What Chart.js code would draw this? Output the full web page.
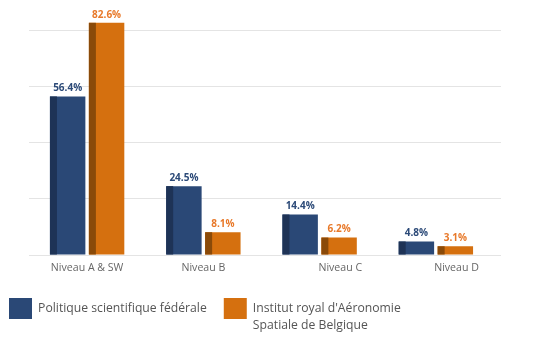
<!DOCTYPE html>
<html>
<head>
<meta charset="utf-8">
<script src="https://cdn.jsdelivr.net/npm/chart.js@4.4.1/dist/chart.umd.min.js"></script>
<style>
  html, body { margin: 0; padding: 0; background: #ffffff; }
  #wrap { width: 550px; height: 340px; }
</style>
</head>
<body>
<div id="wrap"><canvas id="c" width="550" height="340"></canvas></div>
<script>
const categories = ['Niveau A & SW', 'Niveau B', 'Niveau C', 'Niveau D'];
const seriesNames = [['Politique scientifique fédérale'], ["Institut royal d'Aéronomie", 'Spatiale de Belgique']];
const politiqueValues = [56.4, 24.5, 14.4, 4.8];
const institutValues = [82.6, 8.1, 6.2, 3.1];

const mainColors = ['#2a4876', '#d5700f'];
const darkColors = ['#1e3356', '#8a4a09'];
const labelColors = ['#2c4a78', '#e8792a'];

const barDecor = {
  id: 'barDecor',
  afterDatasetsDraw(chart) {
    const ctx = chart.ctx;
    ctx.save();
    chart.data.datasets.forEach((ds, di) => {
      const meta = chart.getDatasetMeta(di);
      meta.data.forEach((bar, i) => {
        const p = bar.getProps(['x', 'y', 'base', 'width'], true);
        const left = p.x - p.width / 2;
        ctx.fillStyle = darkColors[di];
        ctx.fillRect(left, p.y, 7, p.base - p.y);
        ctx.fillStyle = labelColors[di];
        ctx.font = 'bold 10px "Open Sans"';
        ctx.textAlign = 'center';
        ctx.textBaseline = 'middle';
        ctx.fillText(ds.data[i].toFixed(1) + '%', p.x, p.y - 8);
      });
    });
    ctx.restore();
  }
};

// Give the legend room for the second text line (it is clipped to its own box)
const legendRoom = {
  id: 'legendRoom',
  beforeLayout(chart) {
    const lg = chart.legend;
    if (lg && !lg._roomPatched) {
      const fit = lg.fit.bind(lg);
      lg.fit = function () { fit(); this.height += 11; };
      lg._roomPatched = true;
    }
  }
};

new Chart(document.getElementById('c'), {
  type: 'bar',
  data: {
    labels: categories,
    datasets: [
      { label: seriesNames[0], data: politiqueValues, backgroundColor: mainColors[0], categoryPercentage: 0.67, barPercentage: 0.91, yAxisID: 'y' },
      { label: seriesNames[1], data: institutValues, backgroundColor: mainColors[1], categoryPercentage: 0.67, barPercentage: 0.91, yAxisID: 'y' }
    ]
  },
  options: {
    responsive: false,
    animation: false,
    layout: { padding: { left: -8, right: 0, top: 2, bottom: 0 } },
    plugins: {
      tooltip: { enabled: false },
      legend: {
        position: 'bottom',
        align: 'start',
        labels: {
          boxWidth: 23,
          boxHeight: 21,
          color: '#555555',
          font: { family: '"Open Sans"', size: 12.2, lineHeight: 1.42 },
          padding: 17
        }
      }
    },
    scales: {
      x: {
        grid: { display: false, drawTicks: false },
        border: { display: false },
        ticks: {
          color: '#666666',
          font: { family: '"Open Sans"', size: 10.6 },
          padding: 7,
          callback: (v, i) => (i >= 2 ? '               ' : '') + categories[i]
        },
        afterFit: (s) => { s.height = 26; }
      },
      yl: {
        type: 'linear',
        position: 'left',
        display: true,
        grid: { display: false },
        border: { display: false },
        ticks: { display: false },
        afterFit: (s) => { s.width = 37; }
      },
      y: {
        position: 'right',
        min: 0,
        max: 90,
        border: { display: false },
        grid: { color: '#e4e4e4', drawTicks: true, tickLength: 7 },
        ticks: { display: false, stepSize: 20, includeBounds: false },
        afterFit: (s) => { s.width = 56; }
      }
    }
  },
  plugins: [barDecor, legendRoom]
});
</script>
</body>
</html>
